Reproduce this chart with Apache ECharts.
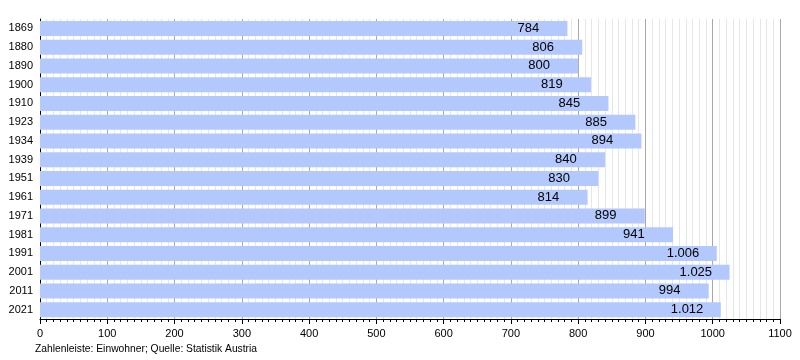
<!DOCTYPE html>
<html><head><meta charset="utf-8">
<script src="https://cdn.jsdelivr.net/npm/echarts@6/dist/echarts.min.js"></script>
<style>html,body{margin:0;padding:0;background:#fff}#c{width:800px;height:360px}</style>
</head><body><div id="c"></div>
<script>
const years = ['1869','1880','1890','1900','1910','1923','1934','1939','1951','1961','1971','1981','1991','2001','2011','2021'];
const population = [784,806,800,819,845,885,894,840,830,814,899,941,1006,1025,994,1012];
const xTicks = [0,100,200,300,400,500,600,700,800,900,1000,1100];
const footer = 'Zahlenleiste: Einwohner; Quelle: Statistik Austria';

function fmt(v){ return String(v).replace(/\B(?=(\d{3})+(?!\d))/g,'.'); }

const chart = echarts.init(document.getElementById('c'), null, {renderer:'canvas'});
chart.setOption({
  animation:false,
  textStyle:{fontFamily:'Liberation Sans, Arial, sans-serif'},
  grid:{left:40,right:20,top:19,bottom:41,containLabel:false},
  xAxis:{
    type:'value',min:xTicks[0],max:xTicks[xTicks.length-1],interval:100,
    axisLine:{show:true,lineStyle:{color:'#000',width:1}},
    axisTick:{show:true,length:5,lineStyle:{color:'#000'}},
    minorTick:{show:true,splitNumber:10,length:3,lineStyle:{color:'#000'}},
    splitLine:{show:true,lineStyle:{color:'#a8a8a8',width:1}},
    minorSplitLine:{show:true,lineStyle:{color:'#e6e6e6',width:1}},
    axisLabel:{color:'#000',fontSize:11,margin:9,formatter:v=>String(v)}
  },
  yAxis:{
    type:'category',data:years,inverse:true,
    axisLine:{show:true,lineStyle:{color:'#000',width:1}},
    axisTick:{show:false},
    axisLabel:{color:'#000',fontSize:11,margin:7},
    splitLine:{show:false}
  },
  series:[{
    type:'bar',data:population,barCategoryGap:'20%',
    itemStyle:{color:'#b3c8fd'},
    label:{show:true,position:'insideRight',align:'left',offset:[-45,0],
      color:'#000',fontSize:13,formatter:p=>fmt(p.value)}
  }],
  graphic:[{type:'text',left:35,top:344,style:{text:footer,fill:'#000',fontSize:10.3,fontFamily:'Liberation Sans, Arial, sans-serif'}}]
});
</script></body></html>
